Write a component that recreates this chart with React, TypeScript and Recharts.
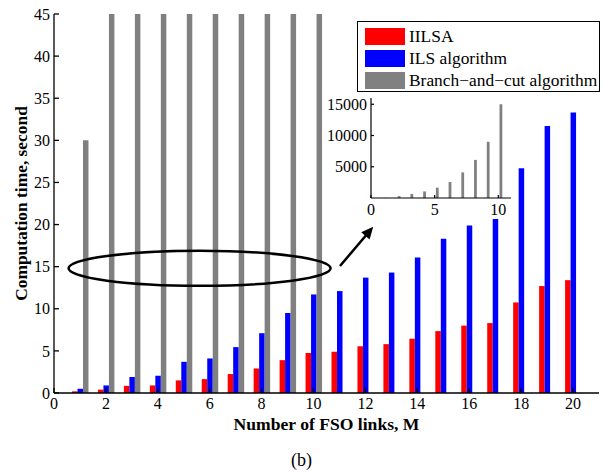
import React from 'react';
import {
  BarChart,
  Bar,
  XAxis,
  YAxis,
  Legend,
  Label,
  ReferenceDot,
  ReferenceLine,
} from 'recharts';

// Number of FSO links, M
const links = [1, 2, 3, 4, 5, 6, 7, 8, 9, 10, 11, 12, 13, 14, 15, 16, 17, 18, 19, 20];
// computation time (seconds)
const iilsaTime = [0.2, 0.4, 0.85, 0.9, 1.5, 1.65, 2.25, 2.9, 3.9, 4.75, 4.9, 5.55, 5.8, 6.45, 7.35, 8.0, 8.3, 10.75, 12.7, 13.4];
const ilsTime = [0.5, 0.9, 1.9, 2.05, 3.7, 4.1, 5.45, 7.1, 9.5, 11.7, 12.1, 13.7, 14.3, 16.1, 18.3, 19.9, 20.65, 26.7, 31.7, 33.3];
// branch-and-cut only run for M = 1..10
const bncTime = [30, 300, 650, 1050, 1650, 2550, 4100, 6100, 9000, 15000];

const seriesNames = ['IILSA', 'ILS algorithm', 'Branch\u2212and\u2212cut algorithm'];
const seriesColors = ['#ff0000', '#0000ff', '#808080'];

const xTicks = [0, 2, 4, 6, 8, 10, 12, 14, 16, 18, 20];
const yTicks = [0, 5, 10, 15, 20, 25, 30, 35, 40, 45];
const insetXTicks = [0, 5, 10];
const insetYTicks = [5000, 10000, 15000];

const data = links.map((m, i) => ({
  m,
  iilsa: iilsaTime[i],
  ils: ilsTime[i],
  bnc: i < bncTime.length ? bncTime[i] : null,
}));

const serif = '"Liberation Serif", "Times New Roman", serif';
const NoLabel = () => <g />;

// tick text drawn by hand so the serif face is certain
const SerifTick = (props: any) => {
  const { x, y, payload, textAnchor, verticalAnchor } = props;
  const dy = verticalAnchor === 'start' ? '0.71em' : verticalAnchor === 'end' ? '0' : '0.355em';
  return (
    <text x={x} y={y} dy={dy} textAnchor={textAnchor} fontFamily={serif} fontSize={16} fill="#000">
      {payload.value}
    </text>
  );
};

const LegendBox = () => (
  <div
    style={{
      boxSizing: 'border-box',
      width: 243,
      height: 71,
      border: '1px solid #000',
      background: '#fff',
      padding: '3px 0 0 7px',
      fontFamily: serif,
      fontSize: 17.4,
      color: '#000',
    }}
  >
    {seriesNames.map((name, i) => (
      <div key={name} style={{ display: 'flex', alignItems: 'center', height: 22 }}>
        <span style={{ display: 'inline-block', width: 40, height: 17, background: seriesColors[i], marginRight: 4 }} />
        <span style={{ whiteSpace: 'nowrap' }}>{name}</span>
      </div>
    ))}
  </div>
);

const Ellipse = (props: any) => (
  <ellipse cx={props.cx} cy={props.cy} rx={131} ry={17.5} fill="none" stroke="#000" strokeWidth={2.5} />
);

const ArrowHead = (props: any) => {
  const { cx, cy } = props;
  const dx = 0.647, dy = -0.763;
  const bx = cx - 12 * dx, by = cy - 12 * dy;
  const px = -dy * 5.5, py = dx * 5.5;
  return <polygon points={`${cx},${cy} ${bx + px},${by + py} ${bx - px},${by - py}`} fill="#000" />;
};

export default function App() {
  return (
    <div
      style={{
        position: 'absolute',
        left: 0,
        top: 0,
        width: 603,
        height: 472,
        background: '#fff',
        fontFamily: serif,
      }}
    >
      <BarChart
        width={603}
        height={472}
        data={data}
        margin={{ top: 14, right: 4, bottom: 0, left: 0 }}
        barGap={0}
        barSize={5.5}
      >
        <XAxis
          xAxisId="b"
          dataKey="m"
          type="number"
          domain={[0, 21]}
          ticks={xTicks}
          height={79}
          tickSize={-5}
          tickMargin={10}
          tick={SerifTick}
          stroke="#000"
          strokeWidth={1.3}
        >
          <Label
            value="Number of FSO links, M"
            position="insideTop"
            offset={25}
            style={{ fill: '#000', fontSize: 17.6, fontWeight: 'bold', fontFamily: serif }}
          />
        </XAxis>
        <XAxis
          xAxisId="t"
          orientation="top"
          dataKey="m"
          type="number"
          domain={[0, 21]}
          ticks={xTicks}
          height={0}
          tickSize={-5}
          tick={NoLabel}
          stroke="#000"
          strokeWidth={1.3}
        />
        <YAxis
          yAxisId="l"
          type="number"
          domain={[0, 45]}
          allowDataOverflow
          ticks={yTicks}
          width={54}
          tickSize={-5}
          tickMargin={9}
          tick={SerifTick}
          stroke="#000"
          strokeWidth={1.3}
        >
          <Label
            content={({ viewBox }: any) => {
              const cy = viewBox.y + viewBox.height / 2;
              return (
                <text
                  x={27}
                  y={cy}
                  transform={`rotate(-90 27 ${cy})`}
                  textAnchor="middle"
                  fontFamily={serif}
                  fontSize={17.4}
                  fontWeight="bold"
                  fill="#000"
                >
                  Computation time, second
                </text>
              );
            }}
          />
        </YAxis>
        <YAxis
          yAxisId="r"
          orientation="right"
          type="number"
          domain={[0, 45]}
          ticks={yTicks}
          width={0}
          tickSize={-5}
          tick={NoLabel}
          stroke="#000"
          strokeWidth={1.3}
        />
        <Bar xAxisId="b" yAxisId="l" dataKey="iilsa" name={seriesNames[0]} fill={seriesColors[0]} isAnimationActive={false} />
        <Bar xAxisId="b" yAxisId="l" dataKey="ils" name={seriesNames[1]} fill={seriesColors[1]} isAnimationActive={false} />
        <Bar xAxisId="b" yAxisId="l" dataKey="bnc" name={seriesNames[2]} fill={seriesColors[2]} isAnimationActive={false} />
        <ReferenceDot xAxisId="b" yAxisId="l" x={5.61} y={14.8} shape={Ellipse} />
        <ReferenceLine
          xAxisId="b"
          yAxisId="l"
          segment={[{ x: 11.02, y: 15.08 }, { x: 12.1, y: 19.0 }]}
          stroke="#000"
          strokeWidth={2.5}
        />
        <ReferenceDot xAxisId="b" yAxisId="l" x={12.3} y={19.75} shape={ArrowHead} />
        <Legend
          layout="vertical"
          align="center"
          verticalAlign="middle"
          content={LegendBox}
          wrapperStyle={{ left: 357, top: 21, width: 243, height: 71 }}
        />
      </BarChart>

      <div
        style={{
          position: 'absolute',
          left: 0,
          top: 450,
          width: 603,
          textAlign: 'center',
          fontSize: 18,
          lineHeight: '20px',
          color: '#000',
        }}
      >
        (b)
      </div>

      <div style={{ position: 'absolute', left: 300, top: 90, width: 220, height: 135, zIndex: 2 }}>
        <BarChart
          width={220}
          height={135}
          data={data.slice(0, bncTime.length)}
          margin={{ top: 8, right: 9, bottom: 0, left: 0 }}
          barGap={0}
          barSize={2.8}
        >
          <XAxis
            xAxisId="b"
            dataKey="m"
            type="number"
            domain={[0, 11]}
            ticks={insetXTicks}
            height={27}
            tickSize={-3}
            tickMargin={9}
            tick={SerifTick}
            stroke="#000"
            strokeWidth={1.2}
          />
          <XAxis
            xAxisId="t"
            orientation="top"
            dataKey="m"
            type="number"
            domain={[0, 11]}
            ticks={insetXTicks}
            height={0}
            tickSize={-3}
            tick={NoLabel}
            stroke="#000"
            strokeWidth={1.2}
          />
          <YAxis
            yAxisId="l"
            type="number"
            domain={[0, 16000]}
            ticks={insetYTicks}
            width={71}
            tickSize={-3}
            tickMargin={7}
            tick={SerifTick}
            stroke="#000"
            strokeWidth={1.2}
          />
          <YAxis
            yAxisId="r"
            orientation="right"
            type="number"
            domain={[0, 16000]}
            ticks={insetYTicks}
            width={0}
            tickSize={-3}
            tick={NoLabel}
            stroke="#000"
            strokeWidth={1.2}
          />
          <Bar xAxisId="b" yAxisId="l" dataKey="iilsa" fill={seriesColors[0]} isAnimationActive={false} />
          <Bar xAxisId="b" yAxisId="l" dataKey="ils" fill={seriesColors[1]} isAnimationActive={false} />
          <Bar xAxisId="b" yAxisId="l" dataKey="bnc" fill={seriesColors[2]} isAnimationActive={false} />
        </BarChart>
      </div>
    </div>
  );
}
